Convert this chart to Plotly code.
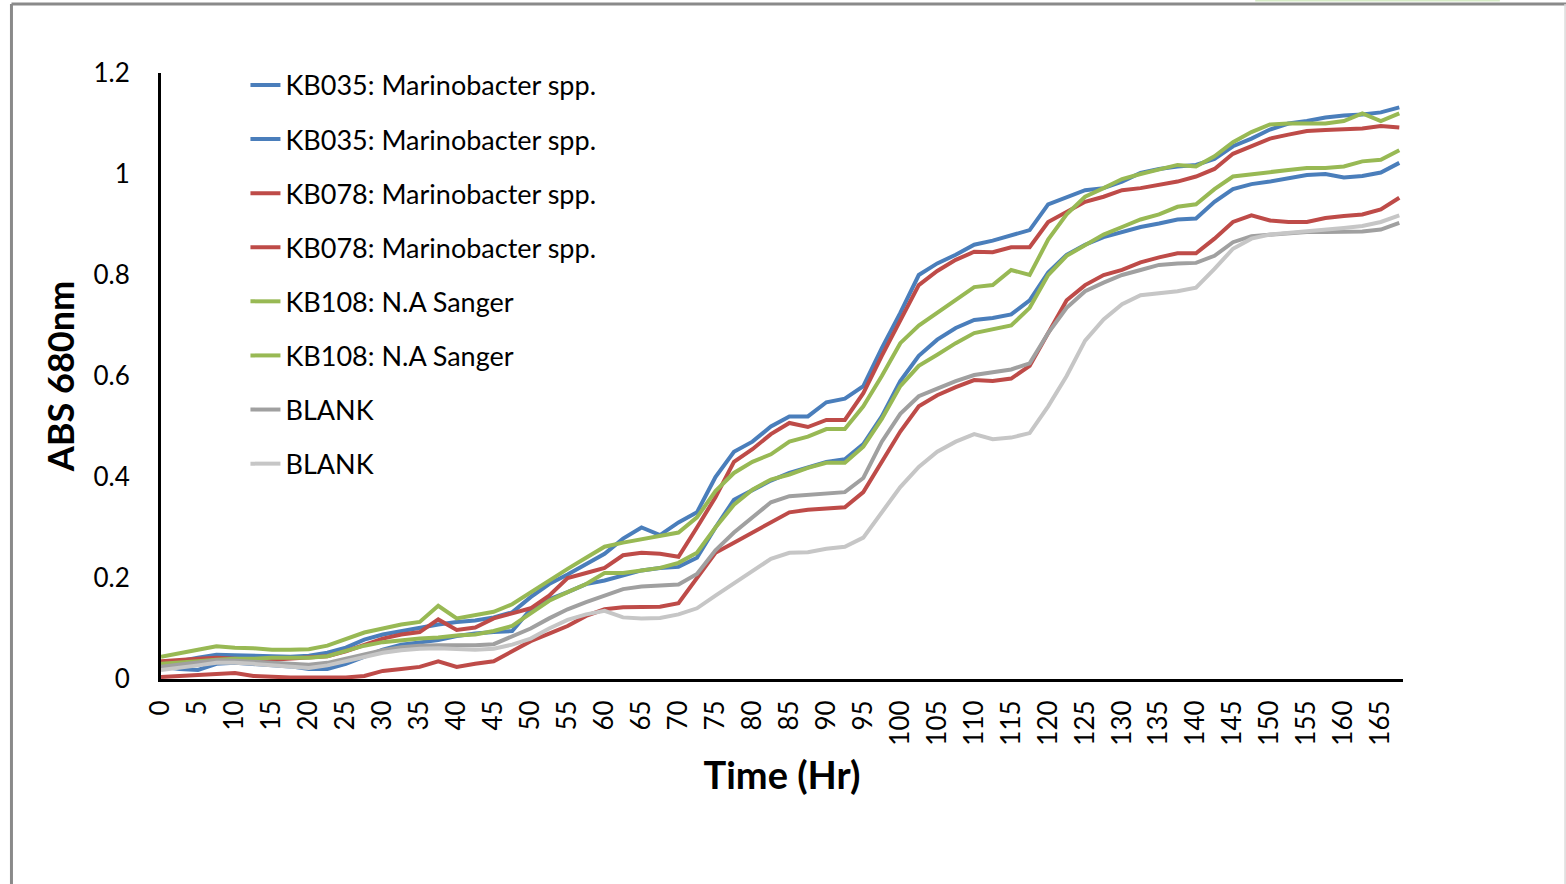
import plotly.graph_objects as go

# Time (Hr)
time_hr = [0, 2.5, 5, 7.5, 10, 12.5, 15, 17.5, 20, 22.5, 25, 27.5, 30, 32.5, 35, 37.5,
           40, 42.5, 45, 47.5, 50, 52.5, 55, 57.5, 60, 62.5, 65, 67.5, 70, 72.5, 75, 77.5,
           80, 82.5, 85, 87.5, 90, 92.5, 95, 97.5, 100, 102.5, 105, 107.5, 110, 112.5, 115, 117.5,
           120, 122.5, 125, 127.5, 130, 132.5, 135, 137.5, 140, 142.5, 145, 147.5, 150, 152.5, 155, 157.5,
           160, 162.5, 165, 167.5]

kb035_a = [0.030, 0.035, 0.042, 0.048, 0.047, 0.046, 0.045, 0.044, 0.046, 0.052, 0.062, 0.078, 0.088, 0.095, 0.100, 0.108,
           0.113, 0.116, 0.122, 0.132, 0.162, 0.188, 0.207, 0.228, 0.248, 0.278, 0.300, 0.285, 0.310, 0.330, 0.400, 0.450,
           0.470, 0.500, 0.520, 0.520, 0.548, 0.555, 0.580, 0.655, 0.725, 0.800, 0.823, 0.840, 0.860, 0.868, 0.878, 0.889,
           0.940, 0.955, 0.968, 0.972, 0.985, 1.002, 1.010, 1.015, 1.018, 1.030, 1.055, 1.070, 1.088, 1.100, 1.105, 1.112,
           1.116, 1.118, 1.122, 1.132]

kb035_b = [0.025, 0.020, 0.018, 0.030, 0.032, 0.030, 0.027, 0.025, 0.020, 0.020, 0.030, 0.045, 0.058, 0.068, 0.072, 0.077,
           0.085, 0.090, 0.093, 0.095, 0.138, 0.158, 0.172, 0.188, 0.195, 0.205, 0.215, 0.220, 0.222, 0.240, 0.300, 0.355,
           0.375, 0.393, 0.408, 0.418, 0.430, 0.435, 0.465, 0.520, 0.590, 0.640, 0.672, 0.695, 0.711, 0.715, 0.722, 0.750,
           0.805, 0.840, 0.860, 0.875, 0.885, 0.895, 0.902, 0.910, 0.912, 0.945, 0.970, 0.980, 0.985, 0.992, 0.998, 1.000,
           0.993, 0.996, 1.003, 1.022]

kb078_a = [0.035, 0.038, 0.040, 0.042, 0.040, 0.038, 0.038, 0.040, 0.042, 0.045, 0.055, 0.068, 0.080, 0.088, 0.093, 0.118,
           0.097, 0.102, 0.120, 0.130, 0.140, 0.165, 0.200, 0.210, 0.220, 0.245, 0.250, 0.248, 0.242, 0.300, 0.360, 0.430,
           0.455, 0.485, 0.507, 0.499, 0.513, 0.513, 0.566, 0.640, 0.710, 0.780, 0.808, 0.830, 0.846, 0.845, 0.855, 0.855,
           0.905, 0.925, 0.945, 0.955, 0.968, 0.972, 0.978, 0.985, 0.995, 1.010, 1.040, 1.055, 1.070, 1.078, 1.085, 1.087,
           1.088, 1.090, 1.095, 1.092]

kb078_b = [0.004, 0.006, 0.008, 0.010, 0.012, 0.006, 0.004, 0.003, 0.003, 0.003, 0.003, 0.006, 0.016, 0.020, 0.024, 0.035,
           0.024, 0.030, 0.035, 0.055, 0.075, 0.090, 0.105, 0.125, 0.138, 0.142, 0.143, 0.143, 0.150, 0.200, 0.250, 0.270,
           0.290, 0.312, 0.330, 0.335, 0.338, 0.340, 0.370, 0.430, 0.490, 0.540, 0.562, 0.578, 0.592, 0.590, 0.595, 0.620,
           0.685, 0.750, 0.780, 0.800, 0.810, 0.825, 0.835, 0.843, 0.843, 0.872, 0.905, 0.918, 0.908, 0.905, 0.905, 0.913,
           0.917, 0.920, 0.930, 0.953]

kb108_a = [0.044, 0.050, 0.058, 0.065, 0.062, 0.061, 0.058, 0.058, 0.059, 0.066, 0.080, 0.092, 0.100, 0.108, 0.113, 0.145,
           0.120, 0.127, 0.133, 0.148, 0.172, 0.195, 0.218, 0.240, 0.262, 0.270, 0.276, 0.282, 0.290, 0.320, 0.372, 0.408,
           0.430, 0.445, 0.470, 0.480, 0.495, 0.495, 0.540, 0.600, 0.665, 0.700, 0.725, 0.750, 0.776, 0.780, 0.810, 0.800,
           0.870, 0.920, 0.955, 0.972, 0.990, 1.000, 1.010, 1.018, 1.015, 1.035, 1.063, 1.083, 1.098, 1.100, 1.100, 1.100,
           1.105, 1.120, 1.105, 1.120]

kb108_b = [0.030, 0.032, 0.035, 0.038, 0.040, 0.040, 0.042, 0.042, 0.042, 0.045, 0.055, 0.066, 0.073, 0.077, 0.080, 0.082,
           0.086, 0.088, 0.095, 0.105, 0.130, 0.155, 0.172, 0.188, 0.210, 0.210, 0.215, 0.220, 0.230, 0.250, 0.300, 0.345,
           0.375, 0.395, 0.405, 0.418, 0.428, 0.428, 0.460, 0.515, 0.580, 0.620, 0.642, 0.665, 0.685, 0.692, 0.700, 0.735,
           0.800, 0.838, 0.860, 0.880, 0.895, 0.910, 0.920, 0.935, 0.940, 0.970, 0.995, 1.000, 1.004, 1.008, 1.012, 1.012,
           1.015, 1.025, 1.028, 1.047]

blank_a = [0.024, 0.028, 0.033, 0.037, 0.036, 0.034, 0.031, 0.029, 0.028, 0.032, 0.040, 0.050, 0.057, 0.063, 0.066, 0.067,
           0.067, 0.067, 0.069, 0.085, 0.100, 0.120, 0.138, 0.152, 0.165, 0.178, 0.183, 0.185, 0.187, 0.208, 0.255, 0.290,
           0.320, 0.350, 0.362, 0.365, 0.367, 0.370, 0.398, 0.470, 0.525, 0.560, 0.575, 0.590, 0.602, 0.607, 0.613, 0.625,
           0.685, 0.735, 0.768, 0.785, 0.800, 0.810, 0.820, 0.823, 0.824, 0.838, 0.865, 0.877, 0.880, 0.883, 0.885, 0.885,
           0.885, 0.886, 0.890, 0.903]

blank_b = [0.018, 0.022, 0.027, 0.032, 0.032, 0.030, 0.027, 0.024, 0.022, 0.027, 0.035, 0.045, 0.052, 0.057, 0.060, 0.061,
           0.060, 0.058, 0.060, 0.068, 0.080, 0.100, 0.117, 0.128, 0.135, 0.122, 0.120, 0.121, 0.128, 0.140, 0.165, 0.190,
           0.215, 0.238, 0.250, 0.251, 0.258, 0.262, 0.280, 0.330, 0.380, 0.420, 0.450, 0.470, 0.485, 0.475, 0.478, 0.487,
           0.540, 0.600, 0.670, 0.712, 0.742, 0.760, 0.764, 0.768, 0.775, 0.812, 0.852, 0.872, 0.880, 0.883, 0.886, 0.889,
           0.893, 0.897, 0.905, 0.918]

names = ["KB035: Marinobacter spp.", "KB035: Marinobacter spp.",
         "KB078: Marinobacter spp.", "KB078: Marinobacter spp.",
         "KB108: N.A Sanger", "KB108: N.A Sanger",
         "BLANK", "BLANK"]
series = [kb035_a, kb035_b, kb078_a, kb078_b, kb108_a, kb108_b, blank_a, blank_b]
colors = ["#4A7EBB", "#4A7EBB", "#BE4B48", "#BE4B48", "#98B954", "#98B954", "#A0A0A0", "#C6C6C6"]

FONT = "Lato"

fig = go.Figure()
for i, (nm, ys, c) in enumerate(zip(names, series, colors)):
    fig.add_trace(go.Scatter(x=time_hr, y=ys, mode="lines", name=nm,
                             legendgroup=f"g{i}",
                             line=dict(color=c, width=4)))

fig.update_layout(
    width=1566, height=884,
    margin=dict(l=161, r=163, t=73, b=205),
    paper_bgcolor="white", plot_bgcolor="white",
    font=dict(family=FONT, color="#000000", size=26),
    showlegend=True,
    legend=dict(x=0.068, xanchor="left", y=1.020, yanchor="top",
                bgcolor="rgba(0,0,0,0)", font=dict(size=27, family=FONT),
                tracegroupgap=16, traceorder="grouped", maxheight=800),
    xaxis=dict(range=[0, 168], tickmode="linear", tick0=0, dtick=5, tickangle=-90,
               showgrid=False, zeroline=False, showline=True, linecolor="black", linewidth=3,
               ticks="", ticklabelstandoff=8, tickfont=dict(size=26, family=FONT),
               title=dict(text="<b>Time (Hr)</b>", font=dict(size=38, family=FONT), standoff=18)),
    yaxis=dict(range=[0, 1.2], tickmode="linear", tick0=0, dtick=0.2,
               showgrid=False, zeroline=False, showline=True, linecolor="black", linewidth=3,
               ticks="", ticklabelstandoff=23, tickfont=dict(size=26, family=FONT),
               title=dict(text="<b>ABS 680nm</b>", font=dict(size=36, family=FONT), standoff=8)),
)

# outer frame of the chart area
fig.add_shape(type="line", xref="paper", yref="paper", x0=-0.1204, x1=1.135, y0=1.1139, y1=1.1139,
              line=dict(color="#8A8A8A", width=3))
fig.add_shape(type="line", xref="paper", yref="paper", x0=-0.1204, x1=-0.1204, y0=1.1139, y1=-0.36,
              line=dict(color="#8A8A8A", width=3))
fig.add_shape(type="line", xref="paper", yref="paper", x0=1.1305, x1=1.1305, y0=1.1139, y1=-0.36,
              line=dict(color="#DADADA", width=1.5))
fig.add_shape(type="line", xref="paper", yref="paper", x0=0.881, x1=1.078, y0=1.1205, y1=1.1205,
              line=dict(color="#D6EBC6", width=3))

fig.write_html("out.html", config={"displayModeBar": False},
               post_script="document.body.style.margin='0px';document.body.style.overflow='hidden';")
